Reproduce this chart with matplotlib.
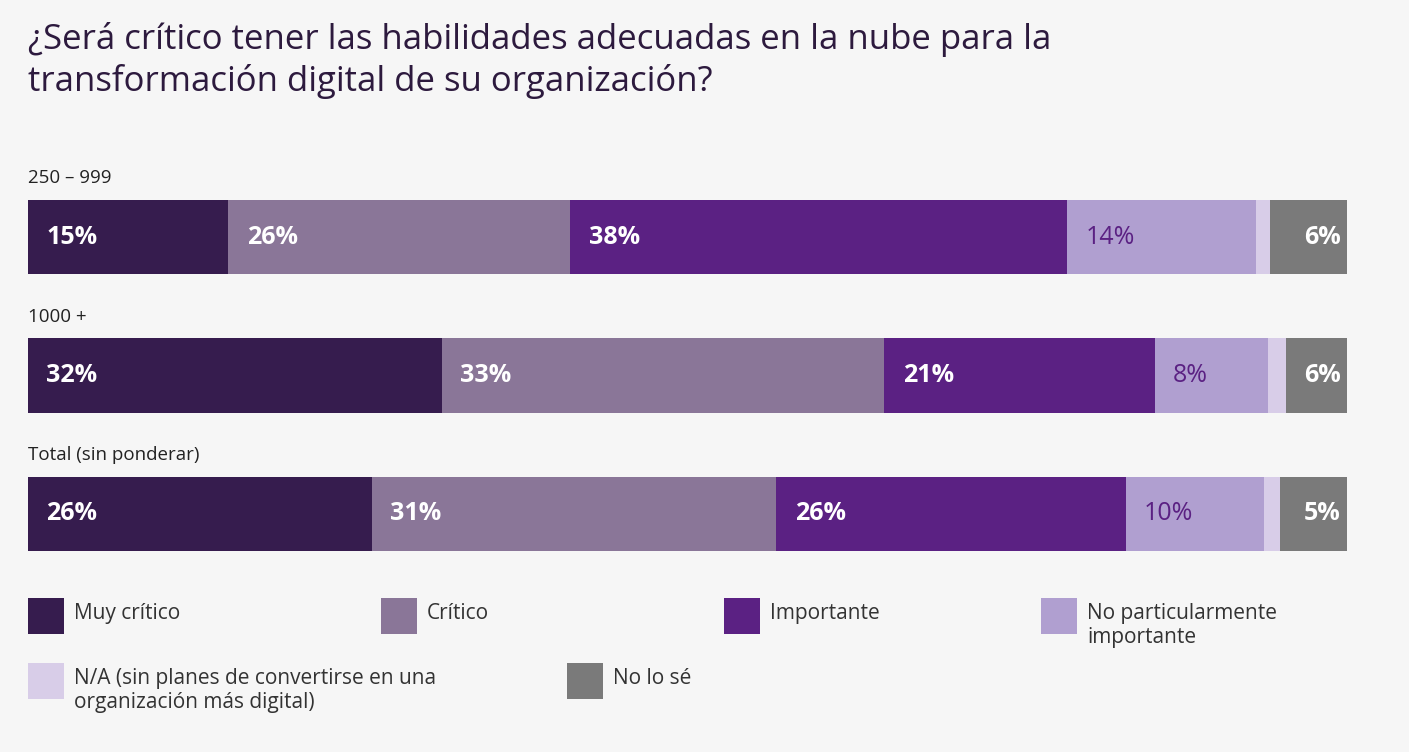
import matplotlib
matplotlib.use("Agg")
import matplotlib.pyplot as plt
from matplotlib.patches import Rectangle

plt.rcParams['font.family'] = ['Open Sans', 'DejaVu Sans']

groups = ["250 – 999", "1000 +", "Total (sin ponderar)"]
series = ["Muy crítico", "Crítico", "Importante", "No particularmente\nimportante",
          "N/A (sin planes de convertirse en una\norganización más digital)", "No lo sé"]
values = [
    [15.2, 25.9, 37.7, 14.3, 1.1, 5.8],
    [31.4, 33.6, 20.5, 8.6, 1.4, 4.6],
    [26.1, 30.7, 26.5, 10.5, 1.2, 5.1],
]
labels = [
    ["15%", "26%", "38%", "14%", "", "6%"],
    ["32%", "33%", "21%", "8%", "", "6%"],
    ["26%", "31%", "26%", "10%", "", "5%"],
]
colors = ["#361c4e", "#8a7698", "#5b2183", "#b09fd0", "#d8cde8", "#7a7a7a"]
txtcol = ["white", "white", "white", "#5b2183", "white", "white"]

W, H = 1409, 752
fig = plt.figure(figsize=(W/100, H/100), dpi=100)
fig.patch.set_facecolor("#f6f6f6")

def fx(x): return x / W
def fy(y): return 1 - y / H

ax = fig.add_axes([fx(28), fy(583), fx(1319), (583-168)/H])
ax.set_facecolor("none")
for i, row in enumerate(values):
    left = 0
    tot = sum(row)
    for j, v in enumerate(row):
        w = v / tot * 100
        ax.barh(i, w, left=left, height=0.535, color=colors[j], edgecolor="none")
        if labels[i][j]:
            if j == 5:
                ax.text(left + w - 0.5, i, labels[i][j], ha="right", va="center",
                        color=txtcol[j], fontsize=18, fontweight="bold")
            else:
                ax.text(left + 1.4, i, labels[i][j], ha="left", va="center",
                        color=txtcol[j], fontsize=18,
                        fontweight="bold" if txtcol[j] == "white" else "normal")
        left += w
    ax.text(0, i - 0.36, groups[i], ha="left", va="bottom", fontsize=13.5, color="#222222")
ax.set_xlim(0, 100)
ax.set_ylim(2.5, -0.5)
ax.axis("off")

fig.text(fx(28), fy(22), "¿Será crítico tener las habilidades adecuadas en la nube para la\ntransformación digital de su organización?",
         ha="left", va="top", fontsize=25, color="#2d1a3e", linespacing=1.25)

leg_pos = [(28, 598), (381, 598), (724, 598), (1041, 598), (28, 663), (567, 663)]
for (x, y), c, s in zip(leg_pos, colors, series):
    fig.patches.append(Rectangle((fx(x), fy(y+36)), fx(36), 36/H, transform=fig.transFigure,
                                 facecolor=c, edgecolor="none"))
    fig.text(fx(x+46), fy(y+5), s, ha="left", va="top", fontsize=15, color="#333333", linespacing=1.2)

fig.savefig("out.png", dpi=100, facecolor=fig.get_facecolor())
